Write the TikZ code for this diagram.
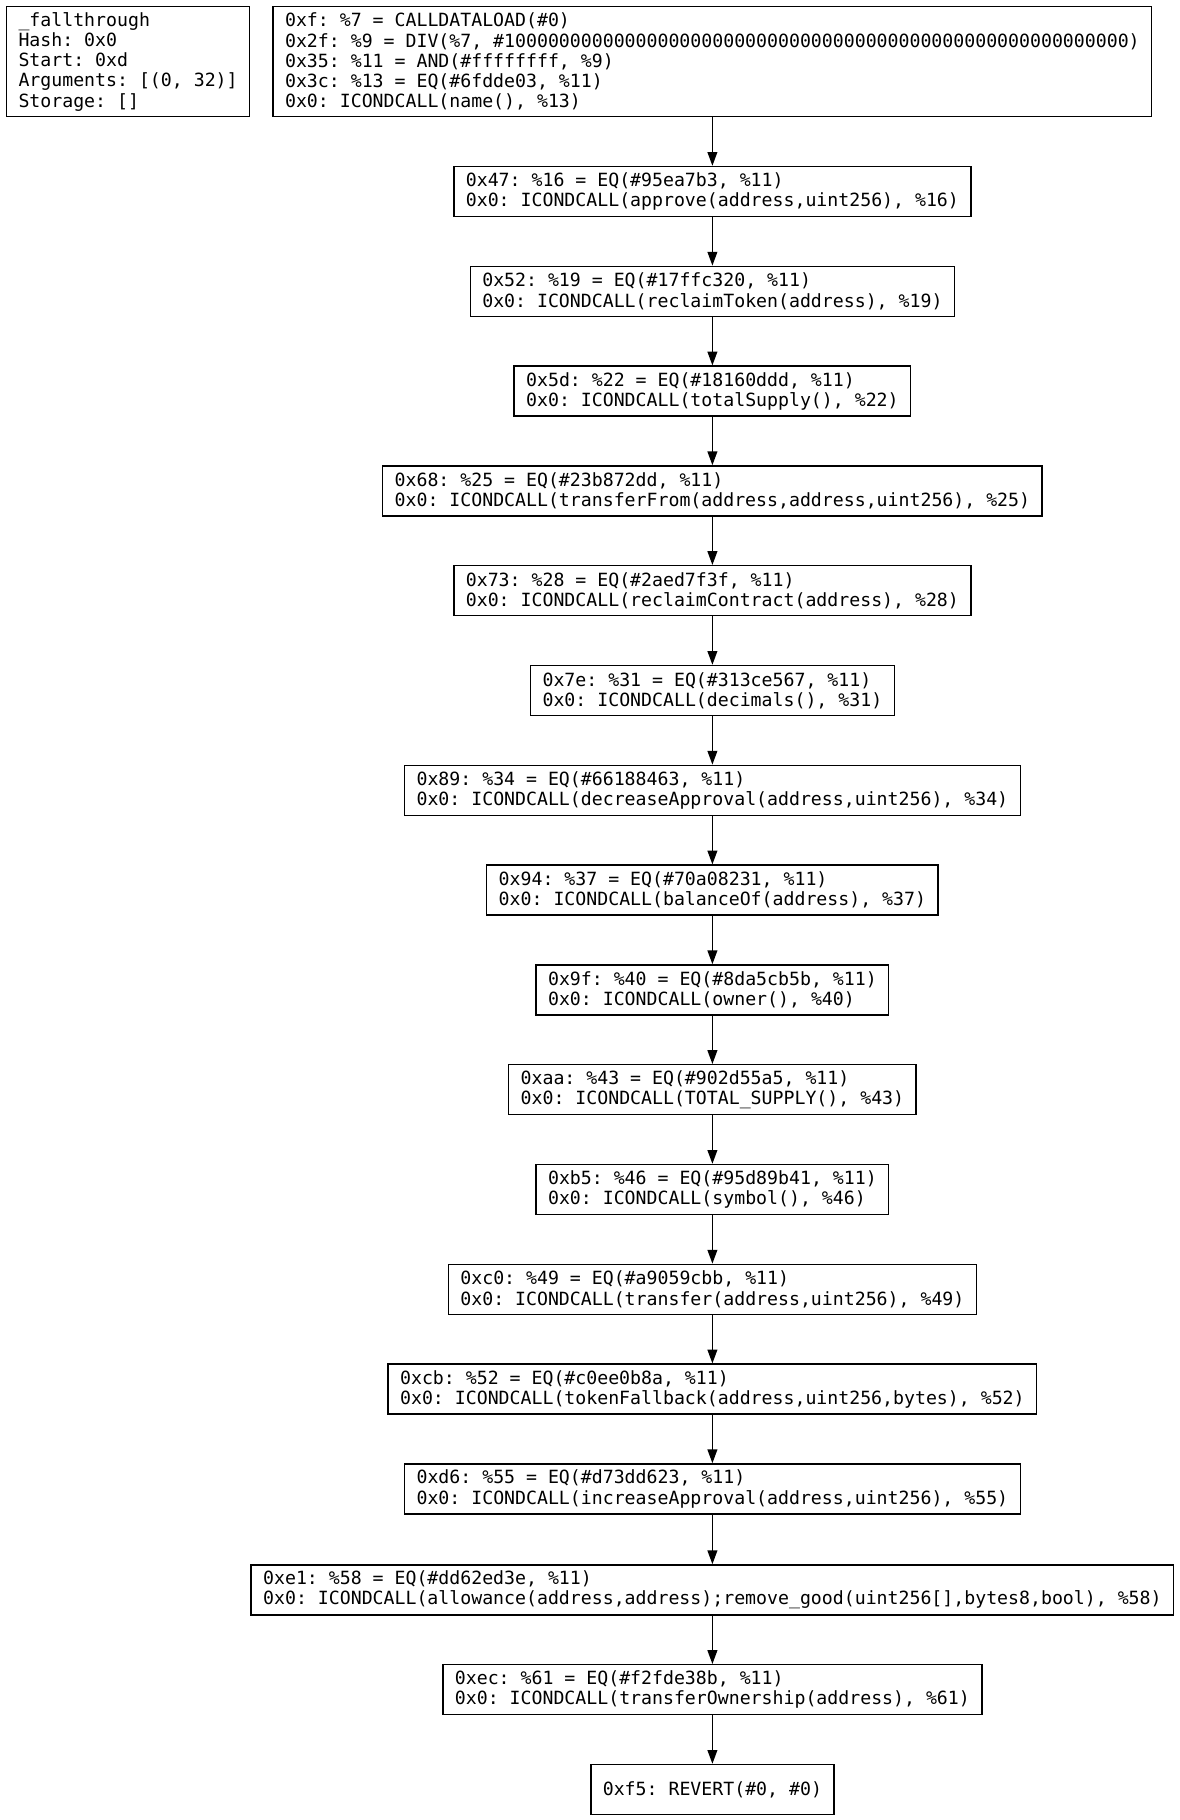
\documentclass[tikz,border=0pt]{standalone}
\usepackage{fontspec}
\setmonofont{DejaVu Sans Mono}
\usetikzlibrary{positioning,arrows.meta}

\begin{document}
\begin{tikzpicture}[x=1pt,y=1pt,
    blk/.style={draw, line width=0.7pt, align=left, inner xsep=6pt, inner ysep=1pt,
        minimum height=25pt, font=\ttfamily\fontsize{9.1}{10.1}\selectfont},
    flow/.style={-{Triangle[length=6.9pt,width=4.9pt]}, line width=0.7pt}]
    \useasboundingbox (0,0) rectangle (589.5,-910);

    % info block
    \node[blk, anchor=north west, minimum height=55.1pt] (info) at (2.9,-2.9)
        {\_fallthrough\\Hash: 0x0\\Start: 0xd\\Arguments: [(0, 32)]\\Storage: []};

    % entry block
    \node[blk, anchor=north, minimum height=55.1pt] (b0) at (356.2,-2.9)
        {0xf: \%7 = CALLDATALOAD(\#0)\\
         0x2f: \%9 = DIV(\%7, \#100000000000000000000000000000000000000000000000000000000)\\
         0x35: \%11 = AND(\#ffffffff, \%9)\\
         0x3c: \%13 = EQ(\#6fdde03, \%11)\\
         0x0: ICONDCALL(name(), \%13)};

    % dispatch chain
    \node[blk, below=24.2pt of b0] (b1) {0x47: \%16 = EQ(\#95ea7b3, \%11)\\0x0: ICONDCALL(approve(address,uint256), \%16)};
    \node[blk, below=24.2pt of b1] (b2) {0x52: \%19 = EQ(\#17ffc320, \%11)\\0x0: ICONDCALL(reclaimToken(address), \%19)};
    \node[blk, below=24.2pt of b2] (b3) {0x5d: \%22 = EQ(\#18160ddd, \%11)\\0x0: ICONDCALL(totalSupply(), \%22)};
    \node[blk, below=24.2pt of b3] (b4) {0x68: \%25 = EQ(\#23b872dd, \%11)\\0x0: ICONDCALL(transferFrom(address,address,uint256), \%25)};
    \node[blk, below=24.2pt of b4] (b5) {0x73: \%28 = EQ(\#2aed7f3f, \%11)\\0x0: ICONDCALL(reclaimContract(address), \%28)};
    \node[blk, below=24.2pt of b5] (b6) {0x7e: \%31 = EQ(\#313ce567, \%11)\\0x0: ICONDCALL(decimals(), \%31)};
    \node[blk, below=24.2pt of b6] (b7) {0x89: \%34 = EQ(\#66188463, \%11)\\0x0: ICONDCALL(decreaseApproval(address,uint256), \%34)};
    \node[blk, below=24.2pt of b7] (b8) {0x94: \%37 = EQ(\#70a08231, \%11)\\0x0: ICONDCALL(balanceOf(address), \%37)};
    \node[blk, below=24.2pt of b8] (b9) {0x9f: \%40 = EQ(\#8da5cb5b, \%11)\\0x0: ICONDCALL(owner(), \%40)};
    \node[blk, below=24.2pt of b9] (b10) {0xaa: \%43 = EQ(\#902d55a5, \%11)\\0x0: ICONDCALL(TOTAL\_SUPPLY(), \%43)};
    \node[blk, below=24.2pt of b10] (b11) {0xb5: \%46 = EQ(\#95d89b41, \%11)\\0x0: ICONDCALL(symbol(), \%46)};
    \node[blk, below=24.2pt of b11] (b12) {0xc0: \%49 = EQ(\#a9059cbb, \%11)\\0x0: ICONDCALL(transfer(address,uint256), \%49)};
    \node[blk, below=24.2pt of b12] (b13) {0xcb: \%52 = EQ(\#c0ee0b8a, \%11)\\0x0: ICONDCALL(tokenFallback(address,uint256,bytes), \%52)};
    \node[blk, below=24.2pt of b13] (b14) {0xd6: \%55 = EQ(\#d73dd623, \%11)\\0x0: ICONDCALL(increaseApproval(address,uint256), \%55)};
    \node[blk, below=24.8pt of b14] (b15) {0xe1: \%58 = EQ(\#dd62ed3e, \%11)\\0x0: ICONDCALL(allowance(address,address);remove\_good(uint256[],bytes8,bool), \%58)};
    \node[blk, below=24.2pt of b15] (b16) {0xec: \%61 = EQ(\#f2fde38b, \%11)\\0x0: ICONDCALL(transferOwnership(address), \%61)};
    \node[blk, below=24.2pt of b16] (b17) {0xf5: REVERT(\#0, \#0)};

    % edges
    \draw[flow] (b0) -- (b1);
    \draw[flow] (b1) -- (b2);
    \draw[flow] (b2) -- (b3);
    \draw[flow] (b3) -- (b4);
    \draw[flow] (b4) -- (b5);
    \draw[flow] (b5) -- (b6);
    \draw[flow] (b6) -- (b7);
    \draw[flow] (b7) -- (b8);
    \draw[flow] (b8) -- (b9);
    \draw[flow] (b9) -- (b10);
    \draw[flow] (b10) -- (b11);
    \draw[flow] (b11) -- (b12);
    \draw[flow] (b12) -- (b13);
    \draw[flow] (b13) -- (b14);
    \draw[flow] (b14) -- (b15);
    \draw[flow] (b15) -- (b16);
    \draw[flow] (b16) -- (b17);
\end{tikzpicture}
\end{document}
